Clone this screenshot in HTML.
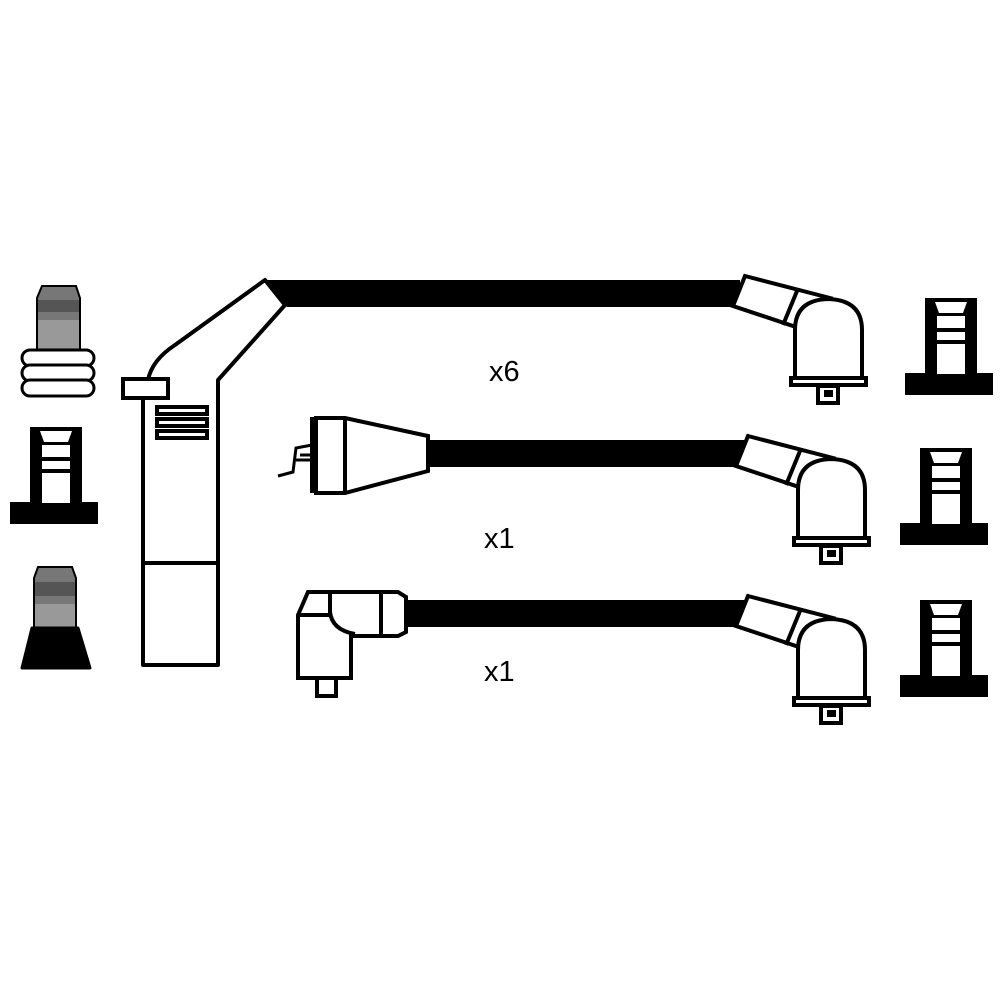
<!DOCTYPE html>
<html><head><style>body{margin:0;background:#fff}svg{display:block}</style></head><body>
<svg width="1000" height="1000" viewBox="0 0 1000 1000" xmlns="http://www.w3.org/2000/svg">
<rect width="1000" height="1000" fill="#fff"/>
<defs>
<g id="boot" fill="#fff" stroke="#000" stroke-width="4">
  <polygon points="745,276 830,298 805,330 733,306"/>
  <line x1="797" y1="291" x2="783" y2="325"/>
  <path d="M795,378 L795,330 Q795,300 828,299 Q862,300 862,330 L862,378 Z"/>
  <rect x="791" y="378" width="75" height="7" fill="#fff"/>
  <rect x="818" y="386" width="20" height="17" fill="#fff"/>
  <rect x="824" y="390" width="9" height="7" fill="#000" stroke="none"/>
</g>
<g id="socket">
  <rect x="0" y="0" width="52" height="80" fill="#000"/>
  <rect x="-20" y="75" width="88" height="22" fill="#000"/>
  <polygon points="10,4 42,4 38,15 14,15" fill="#fff"/>
  <rect x="12" y="18" width="28" height="12" fill="#fff"/>
  <rect x="12" y="34" width="28" height="8" fill="#fff"/>
  <rect x="12" y="46" width="28" height="30" fill="#fff"/>
</g>
</defs>

<polygon points="265,280 740,280 740,307 287,307" fill="#000"/>
<rect x="426" y="440" width="320" height="27" fill="#000"/>
<rect x="406" y="600" width="340" height="27" fill="#000"/>

<use href="#boot"/>
<use href="#boot" transform="translate(3,160)"/>
<use href="#boot" transform="translate(3,320)"/>

<use href="#socket" transform="translate(925,298)"/>
<use href="#socket" transform="translate(920,448)"/>
<use href="#socket" transform="translate(920,600)"/>

<g fill="#fff" stroke="#000" stroke-width="4">
  <path d="M265,280 L285,305 L218,380 L218,665 L143,665 L143,400 L148,380 Q152,360 175,345 Z" stroke-linejoin="round"/>
  <rect x="123" y="379" width="45" height="19"/>
  <line x1="143" y1="563" x2="218" y2="563"/>
  <rect x="157" y="407" width="50" height="7"/>
  <rect x="157" y="419" width="50" height="7"/>
  <rect x="157" y="431" width="50" height="7"/>
</g>

<g fill="#fff" stroke="#000" stroke-width="4">
  <path d="M312,417 L312,493 M316,418 L345,418 L428,436 L428,471 L345,493 L316,493 Z"/>
  <line x1="345" y1="418" x2="345" y2="493"/>
  <path d="M312,445 L296,448 L293,472 L278,476 M296,460 L312,460 M300,455 L312,455" fill="none" stroke-width="3"/>
</g>

<g fill="#fff" stroke="#000" stroke-width="4">
  <path d="M298,615 L308,592 L398,592 L406,597 L406,632 L398,636 L351,636 L351,678 L298,678 Z"/>
  <line x1="298" y1="615" x2="330" y2="615"/>
  <path d="M330,592 L330,612 Q332,630 355,634"/>
  <line x1="381" y1="592" x2="381" y2="636"/>
  <rect x="317" y="678" width="19" height="18"/>
</g>

<polygon points="42,286 76,286 80,298 80,350 37,350 37,298" fill="#777" stroke="#000" stroke-width="2"/>
<rect x="38" y="300" width="41" height="12" fill="#555"/>
<rect x="38" y="320" width="41" height="30" fill="#999"/>
<g fill="#fff" stroke="#000" stroke-width="3">
  <rect x="22" y="350" width="72" height="16" rx="8"/>
  <rect x="22" y="365" width="72" height="16" rx="8"/>
  <rect x="22" y="380" width="72" height="16" rx="8"/>
</g>

<use href="#socket" transform="translate(30,427)"/>

<polygon points="38,567 72,567 76,578 76,628 34,628 34,578" fill="#777" stroke="#000" stroke-width="2"/>
<rect x="35" y="582" width="40" height="14" fill="#555"/>
<rect x="35" y="604" width="40" height="24" fill="#999"/>
<path d="M32,628 L78,628 L90,668 L22,668 Z" fill="#000" stroke="#000" stroke-width="3" stroke-linejoin="round"/>

<g font-family="Liberation Sans, sans-serif" font-size="29" fill="#000">
  <text x="489" y="381">x6</text>
  <text x="484" y="548">x1</text>
  <text x="484" y="681">x1</text>
</g>
</svg>
</body></html>
